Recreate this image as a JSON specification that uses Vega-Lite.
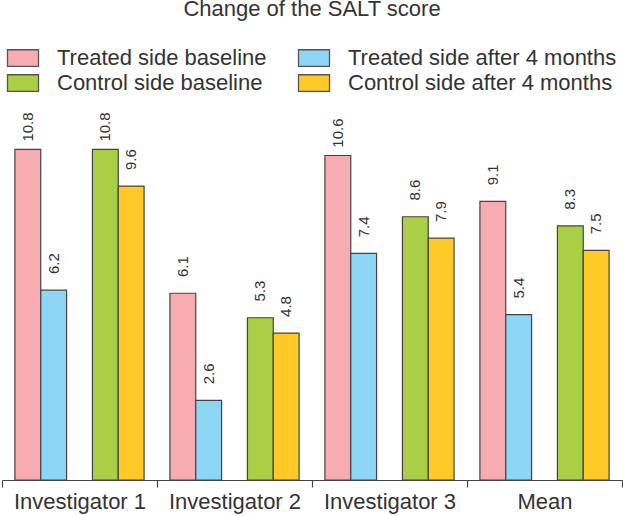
{
  "$schema": "https://vega.github.io/schema/vega-lite/v6.json",
  "autosize": "none",
  "width": 620,
  "height": 450,
  "padding": {"left": 2, "top": 30, "right": 1, "bottom": 36},
  "background": "white",
  "title": {
    "text": "Change of the SALT score",
    "frame": "group",
    "anchor": "middle",
    "baseline": "alphabetic",
    "offset": 11,
    "dy": 19,
    "fontSize": 22,
    "fontWeight": "normal",
    "font": "Liberation Sans",
    "color": "#333333"
  },
  "data": {
    "values": [
      {"group": "Investigator 1", "series": "Treated side baseline", "score": 10.8},
      {"group": "Investigator 1", "series": "Treated side after 4 months", "score": 6.2},
      {"group": "Investigator 1", "series": "Control side baseline", "score": 10.8},
      {"group": "Investigator 1", "series": "Control side after 4 months", "score": 9.6},
      {"group": "Investigator 2", "series": "Treated side baseline", "score": 6.1},
      {"group": "Investigator 2", "series": "Treated side after 4 months", "score": 2.6},
      {"group": "Investigator 2", "series": "Control side baseline", "score": 5.3},
      {"group": "Investigator 2", "series": "Control side after 4 months", "score": 4.8},
      {"group": "Investigator 3", "series": "Treated side baseline", "score": 10.6},
      {"group": "Investigator 3", "series": "Treated side after 4 months", "score": 7.4},
      {"group": "Investigator 3", "series": "Control side baseline", "score": 8.6},
      {"group": "Investigator 3", "series": "Control side after 4 months", "score": 7.9},
      {"group": "Mean", "series": "Treated side baseline", "score": 9.1},
      {"group": "Mean", "series": "Treated side after 4 months", "score": 5.4},
      {"group": "Mean", "series": "Control side baseline", "score": 8.3},
      {"group": "Mean", "series": "Control side after 4 months", "score": 7.5}
    ]
  },
  "encoding": {
    "x": {
      "field": "group",
      "type": "nominal",
      "sort": null,
      "scale": {"paddingInner": 0, "paddingOuter": 0},
      "axis": {
        "title": null,
        "labelAngle": 0,
        "labelFontSize": 22,
        "labelFont": "Liberation Sans",
        "labelColor": "#333333",
        "labelPadding": 4,
        "tickBand": "extent",
        "tickSize": 7,
        "tickColor": "#444444",
        "domainColor": "#444444",
        "domainWidth": 1.2,
        "tickWidth": 1.2
      }
    },
    "xOffset": {
      "field": "series",
      "type": "nominal",
      "scale": {
        "domain": ["Treated side baseline", "Treated side after 4 months", "gap", "Control side baseline", "Control side after 4 months"],
        "paddingInner": 0,
        "paddingOuter": 0.5
      }
    },
    "y": {
      "field": "score",
      "type": "quantitative",
      "scale": {"domain": [0, 14.7], "nice": false, "zero": true},
      "axis": null
    }
  },
  "layer": [
    {
      "mark": {"type": "bar", "stroke": "#444444", "strokeWidth": 1.2},
      "encoding": {
        "color": {
          "field": "series",
          "type": "nominal",
          "scale": {
            "domain": ["Treated side baseline", "Control side baseline", "Treated side after 4 months", "Control side after 4 months"],
            "range": ["#F7ACB2", "#A8CF45", "#8DD6F6", "#FFC928"]
          },
          "legend": {
            "title": null,
            "orient": "none",
            "legendX": 10,
            "legendY": 17,
            "columns": 2,
            "columnPadding": 28,
            "rowPadding": 3,
            "symbolType": "M-1.5,-0.8H1.5V0.8H-1.5Z",
            "symbolSize": 428,
            "symbolStrokeColor": "#555555",
            "symbolStrokeWidth": 1.3,
            "labelFontSize": 22,
            "labelFont": "Liberation Sans",
            "labelColor": "#333333",
            "labelOffset": 23,
            "labelLimit": 400
          }
        }
      }
    },
    {
      "mark": {
        "type": "text",
        "angle": 270,
        "align": "right",
        "baseline": "middle",
        "yOffset": -37,
        "fontSize": 15,
        "font": "Liberation Sans",
        "color": "#333333"
      },
      "encoding": {
        "text": {"field": "score", "type": "quantitative", "format": ".1f"}
      }
    }
  ],
  "config": {
    "view": {"stroke": null}
  }
}
